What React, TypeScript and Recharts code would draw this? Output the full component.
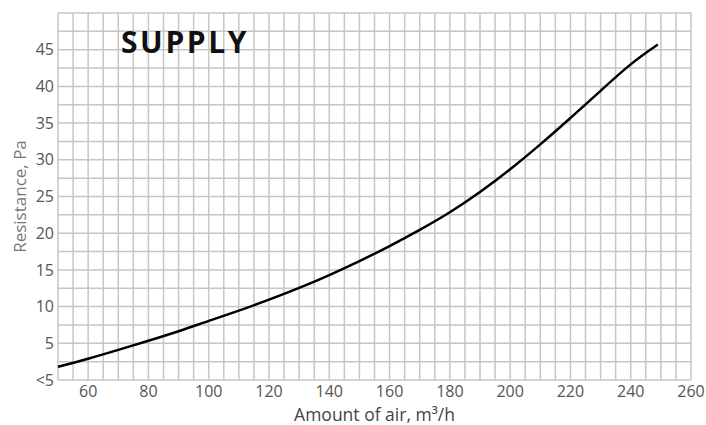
import { LineChart, Line, XAxis, YAxis, CartesianGrid, Customized } from "recharts";

// air flow, m3/h
const airFlow = [50, 60, 70, 80, 90, 100, 110, 120, 130, 140, 150, 160, 170, 180, 190, 200, 210, 220, 230, 240, 249];
// resistance, Pa
const resistance = [1.8, 2.9, 4.1, 5.35, 6.65, 8.05, 9.45, 10.95, 12.55, 14.3, 16.2, 18.25, 20.45, 22.85, 25.6, 28.7, 32.1, 35.7, 39.4, 43.0, 45.7];

// labelled ticks
const xLabels = [60, 80, 100, 120, 140, 160, 180, 200, 220, 240, 260];
const yLabels = [0, 5, 10, 15, 20, 25, 30, 35, 40, 45];

// fine grid: every 5 m3/h and every 2.5 Pa
const xGrid = Array.from({ length: 43 }, (_, i) => 50 + i * 5);
const yGrid = Array.from({ length: 21 }, (_, i) => i * 2.5);

const data = airFlow.map((q, i) => ({ q, r: resistance[i] }));

const font = "'Open Sans', sans-serif";
const tickStyle = { fontSize: 16, fill: "#555", fontFamily: font };

function Title() {
  return (
    <text x={121} y={53} fontSize={30} fontWeight={700} letterSpacing={2.6} fill="#111" fontFamily={font}>
      SUPPLY
    </text>
  );
}

export default function App() {
  return (
    <div style={{ position: "absolute", left: 0, top: 0 }}>
      <LineChart width={706} height={425} data={data} margin={{ top: 13, right: 15, bottom: 0, left: 0 }}>
        <CartesianGrid stroke="#c6c6c6" strokeWidth={1.5} />
        <XAxis
          dataKey="q"
          type="number"
          domain={[50, 260]}
          ticks={xGrid}
          interval={0}
          height={45}
          axisLine={false}
          tickLine={false}
          tickSize={0}
          tickMargin={6}
          tick={tickStyle}
          tickFormatter={(v: number) => (xLabels.includes(v) ? String(v) : "")}
          label={{ value: "Amount of air, m³/h", position: "insideBottom", offset: 4, style: { fontSize: 17.5, fill: "#444", fontFamily: font } }}
        />
        <YAxis
          type="number"
          domain={[0, 50]}
          ticks={yGrid}
          interval={0}
          width={58}
          axisLine={false}
          tickLine={false}
          tickSize={0}
          tickMargin={4}
          tick={tickStyle}
          tickFormatter={(v: number) => (!yLabels.includes(v) ? "" : v === 0 ? "<5" : String(v))}
          label={{ value: "Resistance, Pa", angle: -90, position: "insideLeft", offset: 20, style: { fontSize: 17, fill: "#777", fontFamily: font, textAnchor: "middle" } }}
        />
        <Line dataKey="r" type="natural" stroke="#000" strokeWidth={2.5} dot={false} isAnimationActive={false} />
        <Customized component={Title} />
      </LineChart>
    </div>
  );
}
